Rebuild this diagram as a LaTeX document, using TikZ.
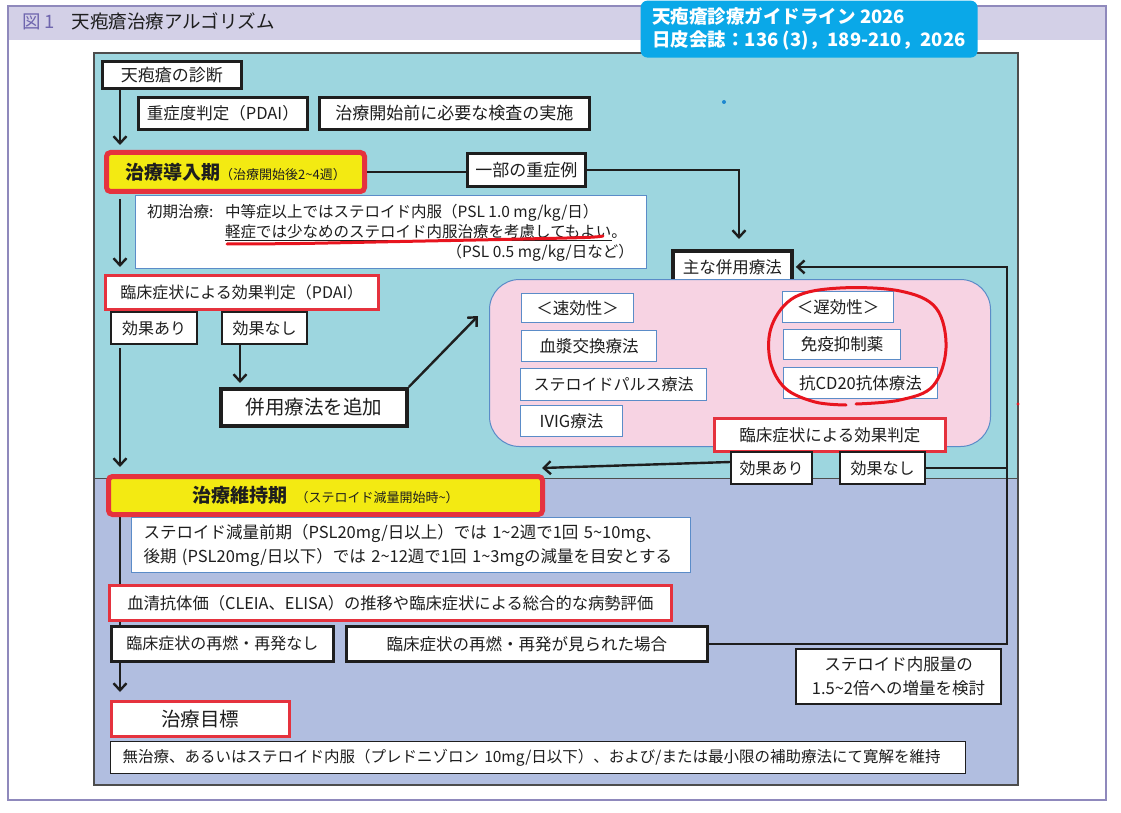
\documentclass[tikz,border=0pt]{standalone}
\usepackage{fontspec}
\setmainfont{Noto Sans CJK JP}
\usetikzlibrary{arrows.meta}
\pgfdeclarelayer{back}
\pgfdeclarelayer{mid}
\pgfsetlayers{back,mid,main}
\definecolor{bandc}{HTML}{D3D0E7}
\definecolor{framec}{HTML}{8F89BC}
\definecolor{figc}{HTML}{6F66AE}
\definecolor{badgec}{HTML}{0AA8E8}
\definecolor{ptop}{HTML}{9DD6DF}
\definecolor{pbot}{HTML}{B1BEE0}
\definecolor{pinkc}{HTML}{F7D3E3}
\definecolor{bluec}{HTML}{5B8CC8}
\definecolor{redc}{HTML}{E5323E}
\definecolor{yelc}{HTML}{F3EA12}
\definecolor{inkc}{HTML}{1E1E1E}
\definecolor{panelc}{HTML}{4D4D4D}
\definecolor{penred}{HTML}{E8141E}
\definecolor{dotblue}{HTML}{1E88D0}
\newcommand\fs[1]{\fontsize{#1}{\fpeval{#1*1.25}}\selectfont}
\newcommand\tld{\textasciitilde}
\newcommand\mkbox[7]{\node[boxbase,minimum width={#4-#2},minimum height={#5-#3},#6] (#1) at (#2,#3) {#7};}
\tikzset{
 boxbase/.style={anchor=north west, inner sep=0pt, fill=white, draw=inkc, line width=1.2pt, align=center, font=\fs{16.5}, text=inkc},
 thk/.style={draw=inkc, line width=2.6pt},
 thkr/.style={draw=inkc, line width=3.8pt},
 redb/.style={draw=redc, line width=2.6pt},
 blu/.style={draw=bluec, line width=1pt},
 phase/.style={draw=redc, line width=5pt, fill=yelc, rounded corners=4pt},
 ln/.style={draw=inkc, line width=2.4pt},
 arr/.style={ln, -{Straight Barb[length=7pt,width=13pt,line width=2.4pt]}},
 txt/.style={inner sep=0pt, font=\fs{15.5}, text=inkc},
}
\begin{document}
\begin{tikzpicture}[x=1pt,y=-1pt]
\useasboundingbox (0,0) rectangle (1121,813);
\begin{pgfonlayer}{back}
 \fill[white] (0,0) rectangle (1121,813);
 \fill[bandc] (8,6) rectangle (1106,40);
 \draw[framec, line width=1.2pt] (8,6) rectangle (1106,800);
 \fill[ptop] (94,53) rectangle (1018,478);
 \fill[pbot] (94,478) rectangle (1018,785);
 \draw[panelc, line width=1pt] (94,478) -- (1018,478);
 \draw[panelc, line width=1.2pt] (94,53) rectangle (1018,785);
\end{pgfonlayer}
% title and badge
\node[anchor=base west, font=\fs{18.5}, text=inkc, inner sep=0pt] (title) at (22,29) {\textcolor{figc}{図 1}\hspace{0.9em}天疱瘡治療アルゴリズム};
\mkbox{badge}{640}{0}{977}{57}{draw=none, fill=badgec, rounded corners=7pt, align=left, text=white, font={\fontsize{18.5}{23}\selectfont\bfseries}}{天疱瘡診療ガイドライン 2026\\日皮会誌：136 (3)，189-210，2026}
\fill[dotblue] (724,102) circle (2);
\fill[penred] (1018,404) circle (1.6);
% top part
\mkbox{diag}{101}{60}{240}{87}{thk, font=\fs{17}}{天疱瘡の診断}
\mkbox{pdai}{137}{96}{306}{128}{thk}{重症度判定（PDAI）}
\mkbox{exam}{318}{96}{588}{128}{thk, font=\fs{17}}{治療開始前に必要な検査の実施}
\mkbox{induct}{104}{150}{362}{189}{phase}{{\fs{19}\bfseries 治療導入期}{\fs{13}（治療開始後2\tld 4週）}}
\mkbox{severe}{466}{152}{584}{185}{thk, font=\fs{17}}{一部の重症例}
\mkbox{init}{135}{195}{646}{268}{blu}{}
\node[txt, anchor=base west] (i1a) at (147,217) {初期治療:};
\node[txt, anchor=base west] (i1b) at (225,217) {中等症以上ではステロイド内服（PSL 1.0 mg/kg/日）};
\node[txt, anchor=base west] (i2) at (225,237) {軽症では少なめのステロイド内服治療を考慮してもよい。};
\node[txt, anchor=base east] (i3) at (634,257) {（PSL 0.5 mg/kg/日など）};
\draw[inkc, line width=0.8pt] ([yshift=-3.5pt]i2.base west) -- ([yshift=-3.5pt,xshift=-15.5pt]i2.base east);
\draw[penred, line width=3pt, line cap=round] plot[smooth] coordinates {(227,244) (300,243.5) (400,241.5) (500,239.5) (585,237.5) (603,236)};
\mkbox{main}{671}{249}{790}{281}{thkr}{主な併用療法}
\mkbox{eval1}{104}{274}{377}{308}{redb, font=\fs{16}}{臨床症状による効果判定（PDAI）}
\mkbox{yes1}{110}{311}{196}{343}{thk, line width=2pt, font=\fs{16}}{効果あり}
\mkbox{no1}{221}{311}{306}{343}{thk, line width=2pt, font=\fs{16}}{効果なし}
\mkbox{add}{219}{387}{405}{424}{thkr, font=\fs{19.5}}{併用療法を追加}
% pink region
\mkbox{pink}{489}{279}{990}{446}{draw=bluec, line width=1pt, fill=pinkc, rounded corners=30pt}{}
\mkbox{fast}{521}{293}{633}{322}{blu}{＜速効性＞}
\mkbox{plasma}{521}{330}{656}{361}{blu}{血漿交換療法}
\mkbox{pulse}{520}{368}{706}{400}{blu, font=\fs{16}}{ステロイドパルス療法}
\mkbox{ivig}{520}{405}{622}{436}{blu}{IVIG療法}
\mkbox{slow}{782}{291}{893}{322}{blu}{＜遅効性＞}
\mkbox{immuno}{783}{329}{900}{359}{blu}{免疫抑制薬}
\mkbox{cd20}{783}{367}{937}{398}{blu}{抗CD20抗体療法}
\draw[penred, line width=3pt, line cap=round] plot[smooth, tension=0.6] coordinates {(856,404) (900,400) (933,386) (946,348) (936,308) (900,291) (840,288) (795,297) (772,325) (770,360) (785,388) (815,402) (846,405)};
\mkbox{eval2}{713}{417}{944}{450}{redb}{臨床症状による効果判定}
\mkbox{yes2}{730}{451}{811}{483}{thk, line width=2pt, font=\fs{16}}{効果あり}
\mkbox{no2}{839}{451}{924}{483}{thk, line width=2pt, font=\fs{16}}{効果なし}
% bottom part
\mkbox{maint}{106}{474}{540}{512}{phase}{{\fs{19}\bfseries 治療維持期}\hspace{0.5em}{\fs{13}（ステロイド減量開始時\tld）}}
\mkbox{taper}{131}{517}{690}{572}{blu, align=left, text width=535pt, inner xsep=12pt, font={\fontsize{16.5}{24}\selectfont}}{ステロイド減量前期（PSL20mg/日以上）では 1\tld 2週で1回 5\tld 10mg、\\後期 (PSL20mg/日以下）では 2\tld 12週で1回 1\tld 3mgの減量を目安とする}
\mkbox{serum}{108}{584}{670}{619}{redb, font=\fs{16.3}}{血清抗体価（CLEIA、ELISA）の推移や臨床症状による総合的な病勢評価}
\mkbox{norel}{110}{625}{332}{660}{thk, font=\fs{16}}{臨床症状の再燃・再発なし}
\mkbox{rel}{345}{625}{706}{660}{thk}{臨床症状の再燃・再発が見られた場合}
\mkbox{incr}{795}{648}{1000}{703}{thk, line width=2pt, font={\fontsize{16.5}{24}\selectfont}}{ステロイド内服量の\\1.5\tld 2倍への増量を検討}
\mkbox{goal}{110}{700}{288}{735}{redb, font=\fs{19.5}}{治療目標}
\mkbox{final}{110}{741}{965}{773}{draw=inkc, line width=1.2pt, align=left, text width=831pt, inner xsep=12pt, font=\fs{15.5}}{無治療、あるいはステロイド内服（プレドニゾロン 10mg/日以下）、および/または最小限の補助療法にて寛解を維持}
% connectors
\coordinate (ax) at (120,0);
\coordinate (bx) at (240,0);
\coordinate (rx) at (1007,0);
\coordinate (sx) at (739,0);
\coordinate (pa) at (478,316);
\coordinate (ya) at (542,468);
\draw[arr, shorten >=5pt] (diag.south -| ax) -- (induct.north -| ax);
\draw[ln] (induct.east) -- (induct.east -| severe.west);
\draw[arr, shorten >=10pt] (severe.east) -| (sx |- main.north);
\draw[arr, shorten <=5pt, shorten >=7pt] (induct.south -| ax) -- (eval1.north -| ax);
\draw[arr, shorten >=4pt] (no1.south -| bx) -- (add.north -| bx);
\draw[arr] (add.north east) -- (pa);
\draw[arr, shorten <=3pt, shorten >=7pt] (yes1.south -| ax) -- (maint.north -| ax);
\draw[arr] ([yshift=6pt]yes2.west) -- (ya);
\draw[ln] (no2.east) -- (no2.east -| rx);
\draw[arr, shorten >=2pt] (rel.east) -| (rx |- main.east) -- (main.east);
\begin{pgfonlayer}{mid}
\draw[arr, shorten >=8pt] (maint.south -| ax) -- (goal.north -| ax);
\end{pgfonlayer}
\end{tikzpicture}
\end{document}
